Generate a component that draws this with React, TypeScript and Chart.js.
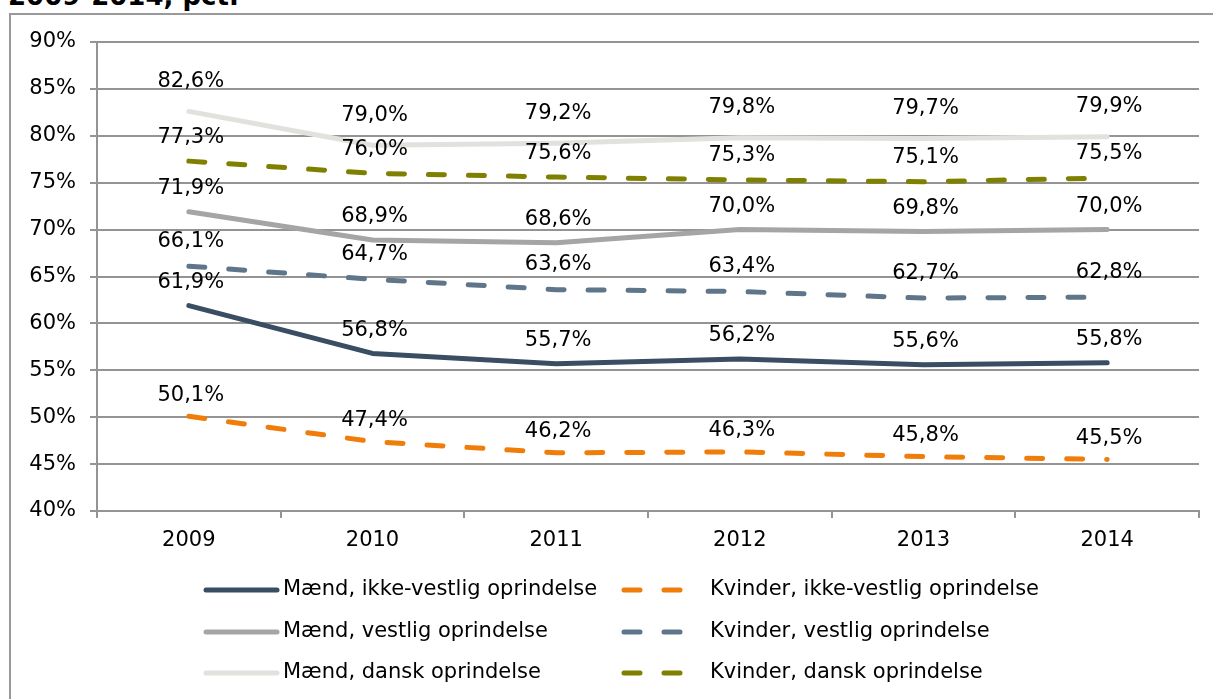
import React, { useEffect, useRef } from "react";
import { Chart, registerables } from "chart.js";

Chart.register(...registerables);

const years = ["2009", "2010", "2011", "2012", "2013", "2014"];
const maendIkkeVestlig = [61.9, 56.8, 55.7, 56.2, 55.6, 55.8];
const kvinderIkkeVestlig = [50.1, 47.4, 46.2, 46.3, 45.8, 45.5];
const maendVestlig = [71.9, 68.9, 68.6, 70.0, 69.8, 70.0];
const kvinderVestlig = [66.1, 64.7, 63.6, 63.4, 62.7, 62.8];
const maendDansk = [82.6, 79.0, 79.2, 79.8, 79.7, 79.9];
const kvinderDansk = [77.3, 76.0, 75.6, 75.3, 75.1, 75.5];
const seriesNames = [
  "Mænd, ikke-vestlig oprindelse",
  "Kvinder, ikke-vestlig oprindelse",
  "Mænd, vestlig oprindelse",
  "Kvinder, vestlig oprindelse",
  "Mænd, dansk oprindelse",
  "Kvinder, dansk oprindelse",
];
const yMin = 40;
const yMax = 90;
const yStep = 5;
const titleText = "2009-2014, pct.";

const FONT = '"DejaVu Sans", Verdana, sans-serif';
const GRID = "#949494";
const DASH = [16, 24];

const seriesStyles = [
  { color: "#394D63", dash: [], labelOffset: 23 },
  { color: "#F07D0A", dash: DASH, labelOffset: 21 },
  { color: "#A5A5A5", dash: [], labelOffset: 23 },
  { color: "#5F7589", dash: DASH, labelOffset: 25 },
  { color: "#E1E1DD", dash: [], labelOffset: 30 },
  { color: "#7F8000", dash: DASH, labelOffset: 24 },
];

const seriesData = [
  maendIkkeVestlig,
  kvinderIkkeVestlig,
  maendVestlig,
  kvinderVestlig,
  maendDansk,
  kvinderDansk,
];

const fmt = (v: number) => v.toFixed(1).replace(".", ",") + "%";

const valueLabels = {
  id: "valueLabels",
  afterDatasetsDraw(chart: any) {
    const ctx = chart.ctx;
    ctx.save();
    ctx.font = `21px ${FONT}`;
    ctx.fillStyle = "#000";
    ctx.textAlign = "center";
    ctx.textBaseline = "middle";
    chart.data.datasets.forEach((ds: any, i: number) => {
      const meta = chart.getDatasetMeta(i);
      meta.data.forEach((pt: any, j: number) => {
        ctx.fillText(fmt(ds.data[j]), pt.x + 2, pt.y - ds.labelOffset);
      });
    });
    ctx.restore();
  },
};

const legendCols = [
  { x0: 206, x1: 277, tx: 283 },
  { x0: 624, x1: 700, tx: 710 },
];
const legendRows = [590, 632, 673];

const customLegend = {
  id: "customLegend",
  afterDraw(chart: any) {
    const ctx = chart.ctx;
    ctx.save();
    ctx.font = `21px ${FONT}`;
    ctx.fillStyle = "#000";
    ctx.textAlign = "left";
    ctx.textBaseline = "middle";
    chart.data.datasets.forEach((ds: any, i: number) => {
      const col = legendCols[i % 2];
      const y = legendRows[Math.floor(i / 2)];
      ctx.beginPath();
      ctx.lineWidth = 5;
      ctx.lineCap = "round";
      ctx.strokeStyle = ds.borderColor;
      ctx.setLineDash(ds.borderDash || []);
      ctx.moveTo(col.x0, y);
      ctx.lineTo(col.x1, y);
      ctx.stroke();
      ctx.setLineDash([]);
      ctx.fillText(ds.label, col.tx, y);
    });
    ctx.restore();
  },
};

export default function App() {
  const ref = useRef<HTMLCanvasElement>(null);

  useEffect(() => {
    if (!ref.current) return;
    const chart = new Chart(ref.current, {
      type: "line",
      data: {
        labels: years,
        datasets: seriesData.map((d, i) => ({
          label: seriesNames[i],
          data: d,
          borderColor: seriesStyles[i].color,
          backgroundColor: seriesStyles[i].color,
          borderDash: seriesStyles[i].dash,
          borderWidth: 5,
          borderCapStyle: "round",
          borderJoinStyle: "round",
          pointRadius: 0,
          pointHoverRadius: 0,
          tension: 0,
          fill: false,
          labelOffset: seriesStyles[i].labelOffset,
        })) as any,
      },
      options: {
        animation: false,
        responsive: false,
        maintainAspectRatio: false,
        events: [],
        layout: { padding: { left: 0, top: 42, right: 14, bottom: 138 } },
        plugins: {
          legend: { display: false },
          tooltip: { enabled: false },
          title: { display: false },
        },
        scales: {
          x: {
            type: "category",
            offset: true,
            grid: {
              offset: true,
              drawOnChartArea: false,
              drawTicks: true,
              tickLength: 7,
              color: GRID,
              lineWidth: 2,
            },
            border: { color: GRID, width: 2 },
            ticks: {
              font: { family: FONT, size: 21 },
              color: "#000",
              padding: 10,
              maxRotation: 0,
            },
            afterFit: (s: any) => {
              s.height = 50;
            },
          },
          y: {
            min: yMin,
            max: yMax,
            grid: {
              drawTicks: true,
              tickLength: 7,
              color: GRID,
              lineWidth: 2,
            },
            border: { color: GRID, width: 2 },
            ticks: {
              stepSize: yStep,
              font: { family: FONT, size: 21 },
              color: "#000",
              padding: 14,
              callback: (v: any) => v + "%",
            },
            afterFit: (s: any) => {
              s.width = 97;
            },
          },
        },
      },
      plugins: [valueLabels, customLegend],
    });
    return () => chart.destroy();
  }, []);

  return (
    <div
      style={{
        position: "absolute",
        left: 0,
        top: 0,
        width: 1213,
        height: 699,
        overflow: "hidden",
        background: "#fff",
      }}
    >
      <div
        style={{
          position: "absolute",
          left: 8,
          top: -19,
          font: `bold 26px ${FONT}`,
          lineHeight: "30px",
          whiteSpace: "nowrap",
          color: "#000",
        }}
      >
        {titleText}
      </div>
      <div
        style={{
          position: "absolute",
          left: 9,
          top: 13,
          width: 1300,
          height: 800,
          border: "2px solid #999",
          boxSizing: "border-box",
          background: "#fff",
        }}
      />
      <canvas
        ref={ref}
        width={1213}
        height={699}
        style={{ position: "absolute", left: 0, top: 0, width: 1213, height: 699 }}
      />
    </div>
  );
}
